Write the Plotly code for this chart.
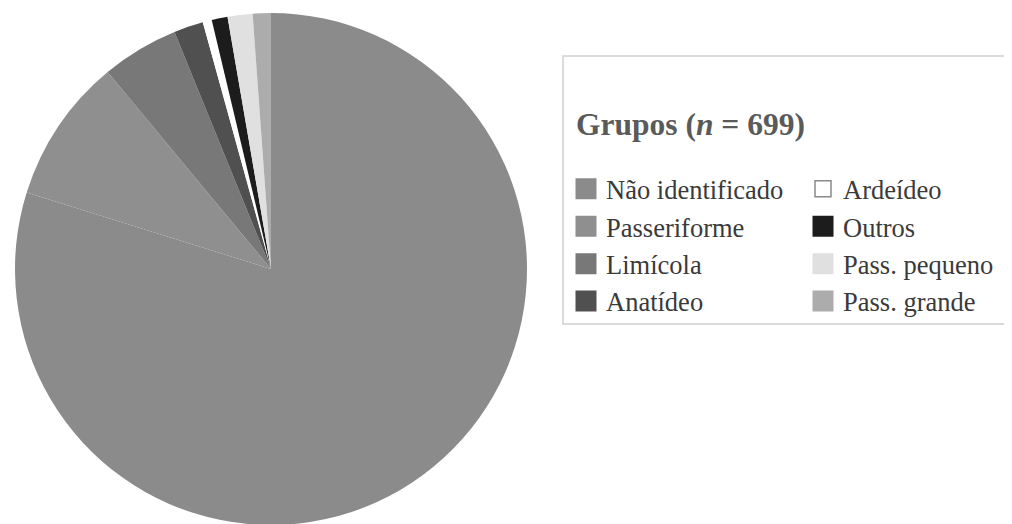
import plotly.graph_objects as go

groups = ["Não identificado", "Passeriforme", "Limícola", "Anatídeo",
          "Ardeídeo", "Outros", "Pass. pequeno", "Pass. grande"]
counts = [558, 64, 34, 13, 4, 7, 11, 8]
colors = ["#8b8b8b", "#8f8f8f", "#787878", "#505050",
          "#ffffff", "#1c1c1c", "#e0e0e0", "#acacac"]
title_text = "<b>Grupos (<i>n</i> = 699)</b>"

W, H = 1012, 524

fig = go.Figure()
fig.add_trace(go.Pie(
    labels=groups, values=counts, sort=False, direction="clockwise",
    rotation=0, textinfo="none", showlegend=False,
    marker=dict(colors=colors, line=dict(width=0)),
    domain=dict(x=[7 / W, 519 / W], y=[5 / H, 521 / H]),
))

# legend entries (two columns)
for i, (g, c) in enumerate(zip(groups, colors)):
    col = 0 if i < 4 else 1
    is_white = c == "#ffffff"
    fig.add_trace(go.Scatter(
        x=[None], y=[None], mode="markers", name=g,
        marker=dict(symbol="square", size=16 if not is_white else 19,
                    color=c,
                    line=dict(color="#8a8a8a" if is_white else c,
                              width=1.5 if is_white else 5)),
        legend="legend" if col == 0 else "legend2",
        hoverinfo="skip",
    ))

legend_font = dict(family="Liberation Serif", size=26.5, color="#3a3a3a")
fig.update_layout(
    width=W, height=H,
    margin=dict(l=0, r=0, t=0, b=0),
    paper_bgcolor="white", plot_bgcolor="white",
    xaxis=dict(visible=False), yaxis=dict(visible=False),
    legend=dict(x=558 / W, y=1 - 157 / H, xanchor="left", yanchor="top",
                orientation="v", font=legend_font, bgcolor="rgba(0,0,0,0)",
                itemclick=False, itemdoubleclick=False, tracegroupgap=0),
    legend2=dict(x=795 / W, y=1 - 157 / H, xanchor="left", yanchor="top",
                 orientation="v", font=legend_font, bgcolor="rgba(0,0,0,0)",
                 itemclick=False, itemdoubleclick=False, tracegroupgap=0),
    annotations=[dict(text=title_text, x=566 / W, y=1 - 116 / H,
                      xref="paper", yref="paper", xanchor="left", yanchor="middle",
                      showarrow=False,
                      font=dict(family="Liberation Serif", size=31.5, color="#5a5a5a"))],
    shapes=[dict(type="rect", xref="paper", yref="paper",
                 x0=555 / W, x1=1011 / W, y0=1 - 316 / H, y1=1 - 48 / H,
                 line=dict(color="#d0d0d0", width=1.5), fillcolor="rgba(0,0,0,0)")],
)

fig.write_html("out.html")
